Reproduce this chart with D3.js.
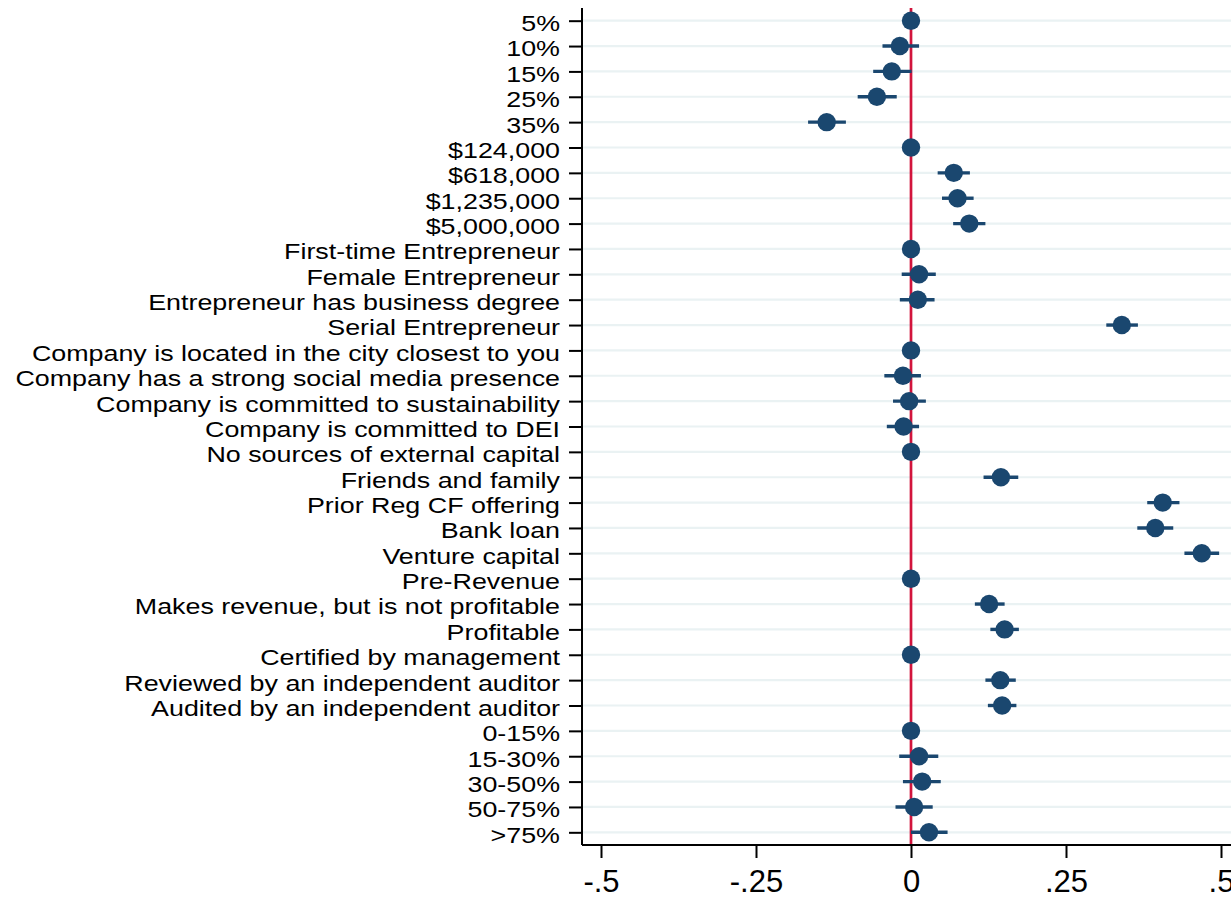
<!DOCTYPE html>
<html>
<head>
<meta charset="utf-8">
<script src="https://cdn.jsdelivr.net/npm/d3@7"></script>
<style>
  body { margin: 0; background: #fff; }
  svg { display: block; font-family: "Liberation Sans", Arial, sans-serif; }
</style>
</head>
<body>
<svg id="coefplot"></svg>
<script>
/* coefficient plot, one row per attribute level; reference levels have no CI */

var labels = ["5%", "10%", "15%", "25%", "35%",
  "$124,000", "$618,000", "$1,235,000", "$5,000,000",
  "First-time Entrepreneur", "Female Entrepreneur", "Entrepreneur has business degree", "Serial Entrepreneur",
  "Company is located in the city closest to you", "Company has a strong social media presence",
  "Company is committed to sustainability", "Company is committed to DEI",
  "No sources of external capital", "Friends and family", "Prior Reg CF offering", "Bank loan", "Venture capital",
  "Pre-Revenue", "Makes revenue, but is not profitable", "Profitable",
  "Certified by management", "Reviewed by an independent auditor", "Audited by an independent auditor",
  "0-15%", "15-30%", "30-50%", "50-75%", ">75%"];

var estimates = [0, -0.018, -0.031, -0.055, -0.136,
  0, 0.069, 0.075, 0.094,
  0, 0.013, 0.011, 0.340,
  0, -0.013, -0.003, -0.012,
  0, 0.145, 0.406, 0.394, 0.469,
  0, 0.126, 0.151,
  0, 0.144, 0.147,
  0, 0.013, 0.018, 0.005, 0.029];

var ciLow = [null, -0.046, -0.061, -0.086, -0.166,
  null, 0.043, 0.050, 0.068,
  null, -0.015, -0.018, 0.315,
  null, -0.043, -0.029, -0.039,
  null, 0.117, 0.381, 0.365, 0.441,
  null, 0.103, 0.128,
  null, 0.120, 0.124,
  null, -0.019, -0.013, -0.025, 0.000];

var ciHigh = [null, 0.013, 0.001, -0.023, -0.105,
  null, 0.095, 0.101, 0.120,
  null, 0.040, 0.038, 0.366,
  null, 0.016, 0.024, 0.013,
  null, 0.173, 0.433, 0.423, 0.497,
  null, 0.151, 0.174,
  null, 0.169, 0.170,
  null, 0.044, 0.048, 0.035, 0.059];

var xTicks = [-0.5, -0.25, 0, 0.25, 0.5];

var width = 1231,
    height = 899,
    margin = { top: 8, bottom: 54, left: 582, right: 0 },
    navy = "#1a476f",
    red = "#d2143c",
    grid = "#eaf2f3",
    stretch = 1.22; // y labels in the original are drawn wider than plain Arial

var rows = labels.map(function (d, i) {
  return { name: d, est: estimates[i], lo: ciLow[i], hi: ciHigh[i] };
});

var svg = d3.select("#coefplot")
    .attr("width", width)
    .attr("height", height);

var xScale = d3.scaleLinear()
    .domain([-0.5, 0.5])
    .range([601, 1221]);

var yScale = d3.scalePoint()
    .domain(labels)
    .range([margin.top, height - margin.bottom])
    .padding(0.5);

var y0 = height - margin.bottom;

/* widen a label without a transform */
function widen(sel) {
  sel.each(function () {
    var len = this.getComputedTextLength();
    d3.select(this)
      .attr("textLength", len * stretch)
      .attr("lengthAdjust", "spacingAndGlyphs");
  });
}

/* gridlines */
svg.append("g").selectAll("line")
  .data(labels)
  .enter().append("line")
    .attr("x1", margin.left + 1)
    .attr("x2", width)
    .attr("y1", function (d) { return yScale(d); })
    .attr("y2", function (d) { return yScale(d); })
    .attr("stroke", grid)
    .attr("stroke-width", 2.2);

/* zero line */
svg.append("line")
    .attr("x1", xScale(0)).attr("x2", xScale(0))
    .attr("y1", margin.top).attr("y2", y0)
    .attr("stroke", red)
    .attr("stroke-width", 2.7);

/* confidence intervals */
svg.append("g").selectAll("line")
  .data(rows.filter(function (d) { return d.lo !== null; }))
  .enter().append("line")
    .attr("x1", function (d) { return xScale(d.lo); })
    .attr("x2", function (d) { return xScale(d.hi); })
    .attr("y1", function (d) { return yScale(d.name); })
    .attr("y2", function (d) { return yScale(d.name); })
    .attr("stroke", navy)
    .attr("stroke-width", 3.4);

/* point estimates */
svg.append("g").selectAll("circle")
  .data(rows)
  .enter().append("circle")
    .attr("cx", function (d) { return xScale(d.est); })
    .attr("cy", function (d) { return yScale(d.name); })
    .attr("r", 9.2)
    .attr("fill", navy);

/* y axis */
var yAxisG = svg.append("g")
    .attr("transform", "translate(" + margin.left + ",0)")
    .call(d3.axisLeft(yScale).tickSize(13).tickPadding(9));
yAxisG.select(".domain")
    .attr("d", "M0," + margin.top + "V" + y0)
    .attr("stroke-width", 2);
yAxisG.selectAll(".tick line").attr("stroke-width", 2);
yAxisG.selectAll(".tick text")
    .attr("font-size", 22)
    .attr("font-family", "Liberation Sans, Arial, sans-serif")
    .attr("fill", "#000")
    .attr("dy", "0.45em")
    .call(widen);

/* x axis */
var fmt = function (v) {
  if (v === 0) return "0";
  return (v < 0 ? "-" : "") + String(Math.abs(v)).replace(/^0/, "");
};
var xAxisG = svg.append("g")
    .attr("transform", "translate(0," + y0 + ")")
    .call(d3.axisBottom(xScale).tickValues(xTicks).tickFormat(fmt).tickSize(13).tickPadding(12));
xAxisG.select(".domain")
    .attr("d", "M" + margin.left + ",0H" + width)
    .attr("stroke-width", 2);
xAxisG.selectAll(".tick line").attr("stroke-width", 2);
xAxisG.selectAll(".tick text")
    .attr("font-size", 31)
    .attr("font-family", "Liberation Sans, Arial, sans-serif")
    .attr("fill", "#000");
</script>
</body>
</html>
